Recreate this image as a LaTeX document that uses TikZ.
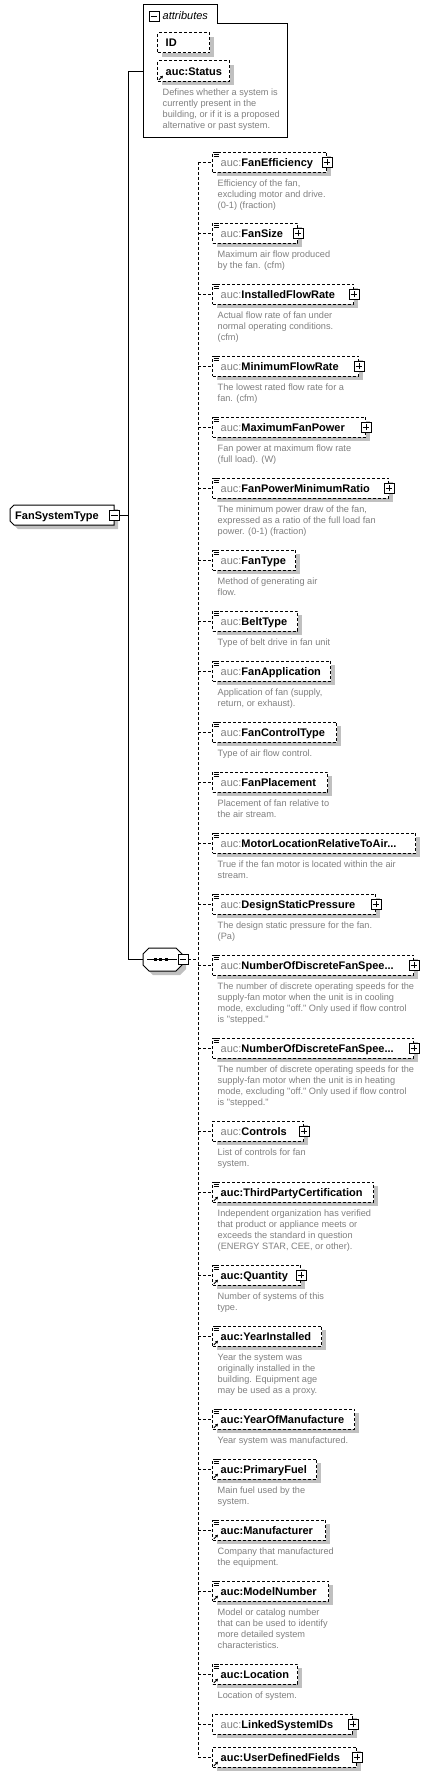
\documentclass[tikz,border=0pt]{standalone}
\usepackage{fontspec}
\setmainfont{Liberation Sans}[Ligatures=TeXOff]
\usetikzlibrary{arrows.meta,shadows}
\definecolor{desccol}{RGB}{128,128,128}
\definecolor{prefcol}{RGB}{128,128,128}
\definecolor{shadowcol}{RGB}{192,192,192}
\newcommand\lp{\textcolor{prefcol}{\mdseries auc:}}
\newcommand\namefont{\fontsize{11}{13}\selectfont\bfseries}
\newcommand\descfont{\fontsize{9.2}{11}\selectfont}
\tikzset{
  x=1pt,y=1pt,
  shd/.style={drop shadow={shadow xshift=4pt,shadow yshift=-4pt,fill=shadowcol,opacity=1}},
  elbox/.style={draw,dash pattern=on 3pt off 2pt,fill=white,line width=1pt,minimum height=20pt,inner sep=0pt,anchor=west,shd},
  ename/.style={anchor=base west,inner sep=0pt,font=\namefont},
  edesc/.style={anchor=base west,inner sep=0pt,font=\descfont,text=desccol},
  pm/.style={draw,fill=white,line width=0.9pt,minimum size=10pt,inner sep=0pt,drop shadow={shadow xshift=0.8pt,shadow yshift=-0.8pt,fill=black,opacity=1}},
  conn/.style={line width=1pt},
  bus/.style={line width=1pt,dash pattern=on 3pt off 2pt},
  anchorbox/.style={inner sep=0pt,draw=none},
}
\newcommand\mkel[4]{%
  \node[elbox,minimum width=#3-212] (#1) at (212,-#2) {};
  \node[ename] at ([xshift=8.5pt,yshift=-4pt]#1.west) {#4};
  \draw[bus] (bus |- #1.west) -- (#1.west);
}
\newcommand\simp[1]{\draw[line width=0.7pt] ([xshift=1.5pt,yshift=-1pt]#1.north west) -- ++(5.5,0) ++(-5.5,-1.7) -- ++(5.5,0) ++(-5.5,-1.7) -- ++(5.5,0);}
\newcommand\refar[1]{\draw[line width=0.8pt,-{Triangle[length=2.6pt,width=3pt]}] ([xshift=1.8pt,yshift=1.6pt]#1.south west) -- ++(4.2,4.2);}
\newcommand\plusb[1]{\node[pm] (#1p) at (#1.east) {};
  \draw[line width=0.9pt] ([xshift=2pt]#1p.west) -- ([xshift=-2pt]#1p.east) ([yshift=2pt]#1p.south) -- ([yshift=-2pt]#1p.north);}
\newcommand\minusb[2]{\node[pm] (#1) at (#2) {};
  \draw[line width=0.9pt] ([xshift=2pt]#1.west) -- ([xshift=-2pt]#1.east);}
\newcommand\dsc[2]{\node[edesc] at ([xshift=5.5pt,yshift=-14pt]#1.south west) {\parbox[t]{230pt}{\raggedright #2}};}
\begin{document}
\begin{tikzpicture}
\path[fill=white,use as bounding box] (0,0) rectangle (428,-1777);
\coordinate (bus) at (198,0);
\coordinate (trunk) at (128,0);

% ---- attributes group
\node[anchorbox,minimum width=144pt,minimum height=132pt,anchor=north west] (attr) at (143,-5) {};
\draw[conn,fill=white] (143,-5) -- (217,-5) -- (217,-24) -- (287,-24) -- (287,-137) -- (143,-137) -- cycle;
\minusb{attrm}{154,-16.2}
\node[anchor=base west,inner sep=0pt,font=\fontsize{11}{13}\selectfont\itshape] at (162.5,-19.3) {attributes};
\node[elbox,minimum width=52pt] (id) at (157,-43) {};
\node[ename] at ([xshift=8.5pt,yshift=-4pt]id.west) {ID};
\node[elbox,minimum width=72pt] (st) at (157,-71) {};
\node[ename] at ([xshift=8.5pt,yshift=-4pt]st.west) {auc:Status};
\refar{st}
\dsc{st}{Defines whether a system is\\currently present in the\\building, or if it is a proposed\\alternative or past system.}

% ---- FanSystemType
\node[anchorbox,minimum width=104pt,minimum height=20pt] (fst) at (62,-515) {};
\fill[shadowcol] (18,-509) -- (118,-509) -- (118,-529) -- (18,-529) -- (14,-525) -- (14,-513) -- cycle;
\draw[conn,fill=white] (14,-505) -- (114,-505) -- (114,-525) -- (14,-525) -- (10,-521) -- (10,-509) -- cycle;
\node[ename] at (15,-519) {FanSystemType};

% ---- sequence compositor
\node[anchorbox,minimum width=39pt,minimum height=23pt] (seq) at (162.5,-959.5) {};
\fill[shadowcol] (153,-952) -- (180,-952) -- (186,-958) -- (186,-969) -- (180,-975) -- (153,-975) -- (147,-969) -- (147,-958) -- cycle;
\draw[conn,fill=white] (149,-948) -- (176,-948) -- (182,-954) -- (182,-965) -- (176,-971) -- (149,-971) -- (143,-965) -- (143,-954) -- cycle;
\draw[conn] (147,-959.5) -- (177,-959.5);
\fill (153.5,-958) rectangle ++(3,-3);
\fill (159,-958) rectangle ++(3,-3);
\fill (164.5,-958) rectangle ++(3,-3);

% ---- trunk connectors
\draw[conn] (attr.west) -- (trunk |- attr.west) -- (trunk |- seq.west) -- (seq.west);
\minusb{fstm}{fst.east}
\draw[conn] (fstm.east) -- (trunk |- fstm.east);
\minusb{seqm}{183,-959.5}

% ---- children
\mkel{fe}{162}{326}{\lp FanEfficiency}\simp{fe}\plusb{fe}
\dsc{fe}{Efficiency of the fan,\\excluding motor and drive.\\(0-1) (fraction)}
\mkel{fs}{233}{297}{\lp FanSize}\simp{fs}\plusb{fs}
\dsc{fs}{Maximum air flow produced\\by the fan. (cfm)}
\mkel{ifr}{294}{353}{\lp InstalledFlowRate}\simp{ifr}\plusb{ifr}
\dsc{ifr}{Actual flow rate of fan under\\normal operating conditions.\\(cfm)}
\mkel{minfr}{366}{358}{\lp MinimumFlowRate}\simp{minfr}\plusb{minfr}
\dsc{minfr}{The lowest rated flow rate for a\\fan. (cfm)}
\mkel{maxfp}{427}{365}{\lp MaximumFanPower}\simp{maxfp}\plusb{maxfp}
\dsc{maxfp}{Fan power at maximum flow rate\\(full load). (W)}
\mkel{fpmr}{488}{388}{\lp FanPowerMinimumRatio}\simp{fpmr}\plusb{fpmr}
\dsc{fpmr}{The minimum power draw of the fan,\\expressed as a ratio of the full load fan\\power. (0-1) (fraction)}
\mkel{ft}{560}{295}{\lp FanType}\simp{ft}
\dsc{ft}{Method of generating air\\flow.}
\mkel{bt}{621}{297}{\lp BeltType}\simp{bt}
\dsc{bt}{Type of belt drive in fan unit}
\mkel{fa}{671}{330}{\lp FanApplication}\simp{fa}
\dsc{fa}{Application of fan (supply,\\return, or exhaust).}
\mkel{fct}{732}{336}{\lp FanControlType}\simp{fct}
\dsc{fct}{Type of air flow control.}
\mkel{fp}{782}{327}{\lp FanPlacement}\simp{fp}
\dsc{fp}{Placement of fan relative to\\the air stream.}
\mkel{ml}{843}{415}{\lp MotorLocationRelativeToAir...}\simp{ml}
\dsc{ml}{True if the fan motor is located within the air\\stream.}
\mkel{dsp}{904}{375}{\lp DesignStaticPressure}\simp{dsp}\plusb{dsp}
\dsc{dsp}{The design static pressure for the fan.\\(Pa)}
\mkel{nda}{965}{413}{\lp NumberOfDiscreteFanSpee...}\simp{nda}\plusb{nda}
\dsc{nda}{The number of discrete operating speeds for the\\supply-fan motor when the unit is in cooling\\mode, excluding "off." Only used if flow control\\is "stepped."}
\mkel{ndb}{1048}{413}{\lp NumberOfDiscreteFanSpee...}\simp{ndb}\plusb{ndb}
\dsc{ndb}{The number of discrete operating speeds for the\\supply-fan motor when the unit is in heating\\mode, excluding "off." Only used if flow control\\is "stepped."}
\mkel{ctl}{1131}{303}{\lp Controls}\plusb{ctl}
\dsc{ctl}{List of controls for fan\\system.}
\mkel{tpc}{1192}{373}{auc:ThirdPartyCertification}\simp{tpc}\refar{tpc}
\dsc{tpc}{Independent organization has verified\\that product or appliance meets or\\exceeds the standard in question\\(ENERGY STAR, CEE, or other).}
\mkel{qty}{1275}{300}{auc:Quantity}\simp{qty}\refar{qty}\plusb{qty}
\dsc{qty}{Number of systems of this\\type.}
\mkel{yi}{1336}{321}{auc:YearInstalled}\simp{yi}\refar{yi}
\dsc{yi}{Year the system was\\originally installed in the\\building. Equipment age\\may be used as a proxy.}
\mkel{yom}{1419}{354}{auc:YearOfManufacture}\simp{yom}\refar{yom}
\dsc{yom}{Year system was manufactured.}
\mkel{pf}{1469}{316}{auc:PrimaryFuel}\simp{pf}\refar{pf}
\dsc{pf}{Main fuel used by the\\system.}
\mkel{mfr}{1530}{325}{auc:Manufacturer}\simp{mfr}\refar{mfr}
\dsc{mfr}{Company that manufactured\\the equipment.}
\mkel{mn}{1591}{328}{auc:ModelNumber}\simp{mn}\refar{mn}
\dsc{mn}{Model or catalog number\\that can be used to identify\\more detailed system\\characteristics.}
\mkel{loc}{1674}{297}{auc:Location}\simp{loc}\refar{loc}
\dsc{loc}{Location of system.}
\mkel{lsi}{1724}{352}{\lp LinkedSystemIDs}\plusb{lsi}
\mkel{udf}{1757}{356}{auc:UserDefinedFields}\refar{udf}\plusb{udf}

% ---- bus
\draw[bus] (seqm.east) -- (bus |- seqm.east);
\draw[bus] (bus |- fe.west) -- (bus |- udf.west);
\end{tikzpicture}
\end{document}
